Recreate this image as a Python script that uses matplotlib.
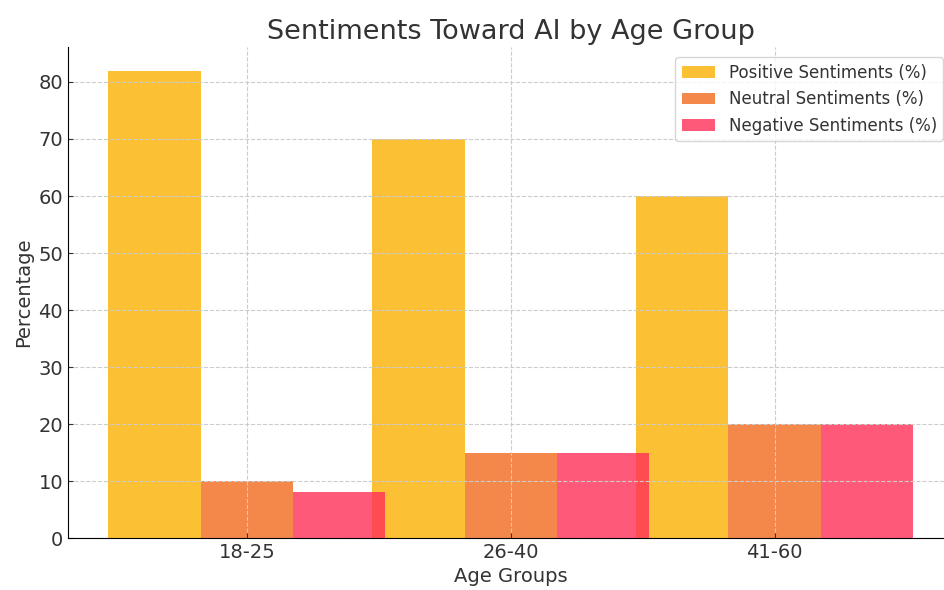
import numpy as np
import matplotlib.pyplot as plt

age_groups = ["18-25", "26-40", "41-60"]
positive = [82, 70, 60]
neutral = [10, 15, 20]
negative = [8, 15, 20]

plt.rcParams['text.color'] = '#333333'
plt.rcParams['axes.labelcolor'] = '#333333'
plt.rcParams['xtick.color'] = '#333333'
plt.rcParams['ytick.color'] = '#333333'

fig = plt.figure(figsize=(9.44, 5.9), dpi=100)
ax = fig.add_axes([0.072, 0.088, 0.938, 0.832])

x = np.arange(len(age_groups))
width = 0.35

ax.bar(x - width, positive, width, color='#FBB100', alpha=0.8, label='Positive Sentiments (%)')
ax.bar(x, neutral, width, color='#F26A1E', alpha=0.8, label='Neutral Sentiments (%)')
ax.bar(x + width, negative, width, color='#FF2F58', alpha=0.8, label='Negative Sentiments (%)')

ax.set_title('Sentiments Toward AI by Age Group', fontsize=19.5)
ax.set_xlabel('Age Groups', fontsize=14)
ax.set_ylabel('Percentage', fontsize=14)
ax.set_xticks(x)
ax.set_xticklabels(age_groups)
ax.tick_params(labelsize=14, direction='in')
ax.grid(True, linestyle='--', color='#cccccc', linewidth=0.8)

for side in ['top', 'right']:
    ax.spines[side].set_visible(False)

ax.legend(loc='upper right', fontsize=12, borderaxespad=0.6)

fig.savefig('out.png')
